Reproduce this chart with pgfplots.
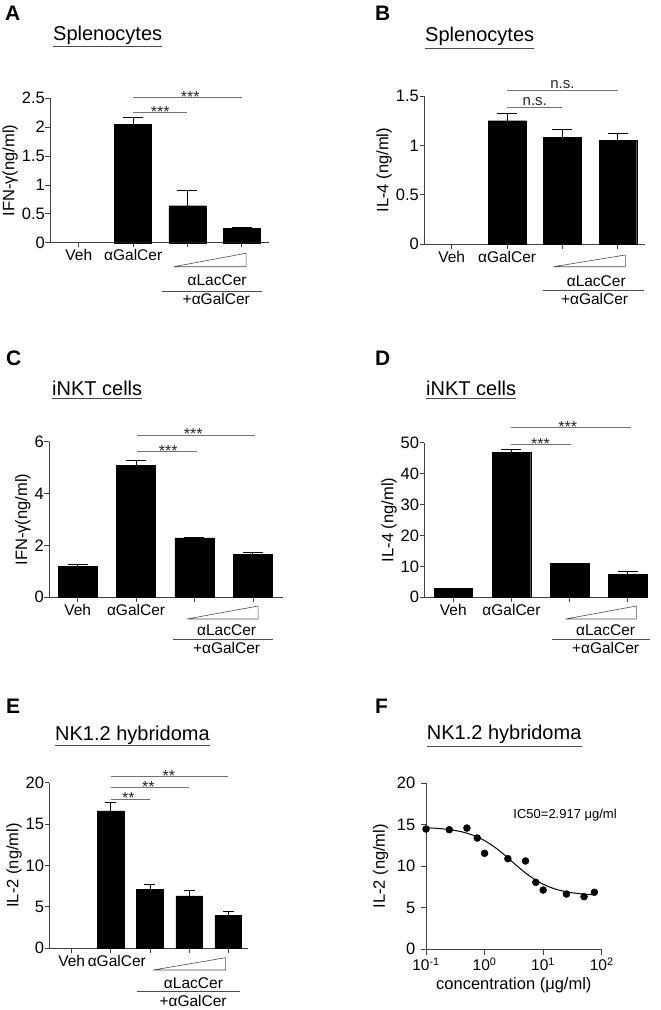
\documentclass[border=0pt]{standalone}
\usepackage{fontspec}
\setmainfont{Liberation Sans}
\usepackage{pgfplots}
\pgfplotsset{compat=1.18}

\newcommand{\tf}{\fontsize{15.5}{17}\selectfont}
\newcommand{\ytf}{\fontsize{16.5}{18}\selectfont}
\newcommand{\titlef}{\fontsize{20}{22}\selectfont}
\newcommand{\letf}{\fontsize{21}{23}\selectfont\bfseries}
\newcommand{\starf}{\fontsize{16}{18}\selectfont}
\newcommand{\nsf}{\fontsize{15}{17}\selectfont}

\pgfplotsset{
  basepanel/.style={
    scale only axis, clip=false, anchor=south west,
    axis x line*=bottom, axis y line*=left,
    axis line style={black!75, line width=0.8pt, -},
    every tick/.style={black!75, line width=0.8pt},
    tick align=outside, major tick length=4.5pt, minor tick length=2.5pt,
    ymin=0,
    xticklabel style={font=\tf, inner ysep=2pt},
    yticklabel style={font=\ytf, inner xsep=0.5pt, /pgf/number format/assume math mode=true},
    label style={font=\fontsize{16.5}{18}\selectfont},
  },
  barpanel/.style={basepanel, ybar, xtick={0,1,2,3}},
  errb/.style={fill=black, draw=black,
    error bars/.cd, y dir=plus, y explicit, error mark=|,
    error bar style={black, line width=0.9pt},
    error mark options={black, line width=0.9pt, mark size=#1}},
  errb/.default=10pt,
}
\tikzset{
  sig/.style={draw=black!55, line width=0.7pt},
  star/.style={font=\starf, anchor=base, black!85},
  ns/.style={font=\nsf, anchor=base, black!85},
  tri/.style={draw=black!70, line width=0.6pt},
  ann/.style={font=\tf, anchor=base},
}

\begin{document}
\begin{tikzpicture}
\path[use as bounding box] (0pt,0pt) rectangle (661pt,-1010pt);

% ---------------- Panel A ----------------
\node[anchor=base west, inner sep=0, font=\letf] at (5pt,-20pt) {A};
\node[anchor=base west, inner sep=0, font=\titlef] (tA) at (53pt,-40pt) {Splenocytes};
\draw[black!70, line width=0.8pt] ([yshift=-2.5pt]tA.south west) -- ([yshift=-2.5pt]tA.south east);
\begin{axis}[barpanel, at={(50pt,-242.7pt)}, width=219pt, height=144.4pt,
  xmin=-0.53, xmax=3.5, ymax=2.5, ytick={0,0.5,1,1.5,2,2.5},
  ylabel={IFN-γ(ng/ml)}, xticklabels={Veh,αGalCer,{},{}}, bar width=37pt]
\addplot[errb] coordinates {(1,2.05) +- (0,0.11) (2,0.64) +- (0,0.27) (3,0.25) +- (0,0.01)};
\draw[sig] (axis cs:1,2.26) -- (axis cs:2,2.26);
\node[star] at ([yshift=-5pt]axis cs:1.5,2.26) {***};
\draw[sig] (axis cs:1,2.52) -- (axis cs:3,2.52);
\node[star] at ([yshift=-5pt]axis cs:2.05,2.52) {***};
\draw[tri] ([yshift=-24pt]axis cs:1.75,0) -- ([yshift=-24pt]axis cs:3.08,0) -- ([yshift=-10.5pt]axis cs:3.08,0) -- cycle;
\node[ann] at ([yshift=-42.3pt]axis cs:2.545,0) {αLacCer};
\draw[tri] ([yshift=-48.3pt]axis cs:1.54,0) -- ([yshift=-48.3pt]axis cs:3.37,0);
\node[ann] at ([yshift=-61.3pt]axis cs:2.53,0) {+αGalCer};
\end{axis}

% ---------------- Panel B ----------------
\node[anchor=base west, inner sep=0, font=\letf] at (375pt,-20pt) {B};
\node[anchor=base west, inner sep=0, font=\titlef] (tB) at (425pt,-41.5pt) {Splenocytes};
\draw[black!70, line width=0.8pt] ([yshift=-2.5pt]tB.south west) -- ([yshift=-2.5pt]tB.south east);
\begin{axis}[barpanel, at={(424pt,-244.3pt)}, width=221pt, height=148.3pt,
  xmin=-0.5, xmax=3.49, ymax=1.5, ytick={0,0.5,1,1.5},
  ylabel={IL-4 (ng/ml)}, xticklabels={Veh,αGalCer,{},{}}, bar width=37.7pt]
\addplot[errb] coordinates {(1,1.25) +- (0,0.07) (2,1.085) +- (0,0.078) (3,1.048) +- (0,0.072)};
\draw[sig] (axis cs:1,1.386) -- (axis cs:2,1.386);
\node[ns] at ([yshift=2pt]axis cs:1.5,1.386) {n.s.};
\draw[sig] (axis cs:1,1.56) -- (axis cs:3,1.56);
\node[ns] at ([yshift=2pt]axis cs:2,1.56) {n.s.};
\draw[tri] ([yshift=-22.4pt]axis cs:1.84,0) -- ([yshift=-22.4pt]axis cs:3.135,0) -- ([yshift=-10.7pt]axis cs:3.135,0) -- cycle;
\node[ann] at ([yshift=-42.4pt]axis cs:2.61,0) {αLacCer};
\draw[tri] ([yshift=-45.7pt]axis cs:1.65,0) -- ([yshift=-45.7pt]axis cs:3.48,0);
\node[ann] at ([yshift=-60.5pt]axis cs:2.58,0) {+αGalCer};
\end{axis}

% ---------------- Panel C ----------------
\node[anchor=base west, inner sep=0, font=\letf] at (6pt,-365pt) {C};
\node[anchor=base west, inner sep=0, font=\titlef] (tC) at (52pt,-395pt) {iNKT cells};
\draw[black!70, line width=0.8pt] ([yshift=-3pt]tC.south west) -- ([yshift=-3pt]tC.south east);
\begin{axis}[barpanel, at={(49pt,-597.3pt)}, width=233.7pt, height=155.6pt,
  xmin=-0.49, xmax=3.51, ymax=6, ytick={0,2,4,6},
  ylabel={IFN-γ(ng/ml)}, xticklabels={Veh,αGalCer,{},{}}, bar width=39pt]
\addplot[errb] coordinates {(0,1.195) +- (0,0.075) (1,5.08) +- (0,0.19) (2,2.29) +- (0,0.03) (3,1.66) +- (0,0.06)};
\draw[sig] (axis cs:1.02,5.62) -- (axis cs:2.05,5.62);
\node[star] at ([yshift=-5pt]axis cs:1.55,5.62) {***};
\draw[sig] (axis cs:1.02,6.26) -- (axis cs:3.04,6.26);
\node[star] at ([yshift=-5pt]axis cs:1.98,6.26) {***};
\draw[tri] ([yshift=-21.7pt]axis cs:1.87,0) -- ([yshift=-21.7pt]axis cs:3.09,0) -- ([yshift=-8.7pt]axis cs:3.09,0) -- cycle;
\node[ann] at ([yshift=-37.7pt]axis cs:2.55,0) {αLacCer};
\draw[tri] ([yshift=-42pt]axis cs:1.635,0) -- ([yshift=-42pt]axis cs:3.34,0);
\node[ann] at ([yshift=-56pt]axis cs:2.55,0) {+αGalCer};
\end{axis}

% ---------------- Panel D ----------------
\node[anchor=base west, inner sep=0, font=\letf] at (375pt,-365pt) {D};
\node[anchor=base west, inner sep=0, font=\titlef] (tD) at (426pt,-395pt) {iNKT cells};
\draw[black!70, line width=0.8pt] ([yshift=-3pt]tD.south west) -- ([yshift=-3pt]tD.south east);
\begin{axis}[barpanel, at={(424.3pt,-597.3pt)}, width=223.7pt, height=154.7pt,
  xmin=-0.5, xmax=3.35, ymax=50, ytick={0,10,20,30,40,50},
  ylabel={IL-4 (ng/ml)}, xticklabels={Veh,αGalCer,{},{}}, bar width=38.5pt]
\addplot[errb] coordinates {(0,2.9) +- (0,0.1) (1,46.8) +- (0,1.0) (2,10.9) +- (0,0.2) (3,7.43) +- (0,0.8)};
\draw[sig] (axis cs:1,49.4) -- (axis cs:2.02,49.4);
\node[star] at ([yshift=-5pt]axis cs:1.5,49.4) {***};
\draw[sig] (axis cs:1,54.9) -- (axis cs:3.05,54.9);
\node[star] at ([yshift=-5pt]axis cs:1.97,54.9) {***};
\draw[tri] ([yshift=-21.7pt]axis cs:1.93,0) -- ([yshift=-21.7pt]axis cs:3.15,0) -- ([yshift=-8.7pt]axis cs:3.15,0) -- cycle;
\node[ann] at ([yshift=-37.7pt]axis cs:2.62,0) {αLacCer};
\draw[tri] ([yshift=-42pt]axis cs:1.70,0) -- ([yshift=-42pt]axis cs:3.39,0);
\node[ann] at ([yshift=-56pt]axis cs:2.62,0) {+αGalCer};
\end{axis}

% ---------------- Panel E ----------------
\node[anchor=base west, inner sep=0, font=\letf] at (6pt,-713.3pt) {E};
\node[anchor=base west, inner sep=0, font=\titlef] (tE) at (55pt,-740pt) {NK1.2 hybridoma};
\draw[black!70, line width=0.8pt] ([yshift=-1pt]tE.south west) -- ([yshift=-1pt]tE.south east);
\begin{axis}[basepanel, ybar, at={(49.3pt,-948.3pt)}, width=199pt, height=165.7pt,
  xmin=-0.57, xmax=4.51, ymax=20, ytick={0,5,10,15,20}, xtick={0,1,2,3,4},
  ylabel={IL-2 (ng/ml)}, xticklabels={Veh,\hspace*{12pt}αGalCer,{},{},{}}, bar width=26.7pt]
\addplot[errb=5.5pt] coordinates {(1,16.58) +- (0,1.04) (2,7.12) +- (0,0.6) (3,6.32) +- (0,0.68) (4,3.98) +- (0,0.41)};
\draw[sig] (axis cs:1,18.03) -- (axis cs:2,18.03);
\node[star] at ([yshift=-5pt]axis cs:1.45,18.03) {**};
\draw[sig] (axis cs:1,19.4) -- (axis cs:3,19.4);
\node[star] at ([yshift=-5pt]axis cs:1.96,19.4) {**};
\draw[sig] (axis cs:1,20.72) -- (axis cs:4,20.72);
\node[star] at ([yshift=-5pt]axis cs:2.48,20.72) {**};
\draw[tri] ([yshift=-21.7pt]axis cs:2.08,0) -- ([yshift=-21.7pt]axis cs:3.93,0) -- ([yshift=-9.4pt]axis cs:3.93,0) -- cycle;
\node[ann] at ([yshift=-40pt]axis cs:3.11,0) {αLacCer};
\draw[tri] ([yshift=-43pt]axis cs:1.68,0) -- ([yshift=-43pt]axis cs:4.31,0);
\node[ann] at ([yshift=-58.2pt]axis cs:3.10,0) {+αGalCer};
\end{axis}

% ---------------- Panel F ----------------
\node[anchor=base west, inner sep=0, font=\letf] at (375pt,-713.3pt) {F};
\node[anchor=base west, inner sep=0, font=\titlef] (tF) at (426.7pt,-739.5pt) {NK1.2 hybridoma};
\draw[black!70, line width=0.8pt] ([yshift=-3pt]tF.south west) -- ([yshift=-3pt]tF.south east);
\begin{axis}[basepanel, at={(426pt,-949.3pt)}, width=175.7pt, height=166pt,
  xmode=log, log basis x=10, xmin=0.1, xmax=100, ymax=20, ytick={0,5,10,15,20},
  major tick length=5.5pt,
  xtick={0.1,1,10,100},
  xticklabels={10\textsuperscript{-1},10\textsuperscript{0},10\textsuperscript{1},10\textsuperscript{2}},
  xticklabel style={inner ysep=3pt},
  yticklabel style={inner xsep=5pt},
  ylabel={IL-2 (ng/ml)}, xlabel={concentration (μg/ml)}]
\addplot[black, line width=1pt, smooth] coordinates {
 (0.1,14.65) (0.15,14.58) (0.2,14.50) (0.3,14.34) (0.4,14.17) (0.5,13.99)
 (0.7,13.63) (1,13.10) (1.5,12.29) (2,11.60) (3,10.52) (4,9.76) (5,9.20)
 (7,8.46) (10,7.84) (15,7.33) (20,7.08) (30,6.83) (40,6.72) (50,6.65) (75,6.57)};
\addplot[only marks, mark=*, mark size=3.5pt, black] coordinates {
 (0.1,14.49) (0.25,14.41) (0.5,14.61) (0.75,13.41) (1,11.57) (2.5,10.92)
 (5,10.64) (7.5,8.07) (10,7.14) (25,6.66) (50,6.34) (75,6.87)};
\node[anchor=base west, font=\fontsize{13}{15}\selectfont, inner sep=0] at (axis cs:3.09,15.78) {IC50=2.917 μg/ml};
\end{axis}
\end{tikzpicture}
\end{document}
